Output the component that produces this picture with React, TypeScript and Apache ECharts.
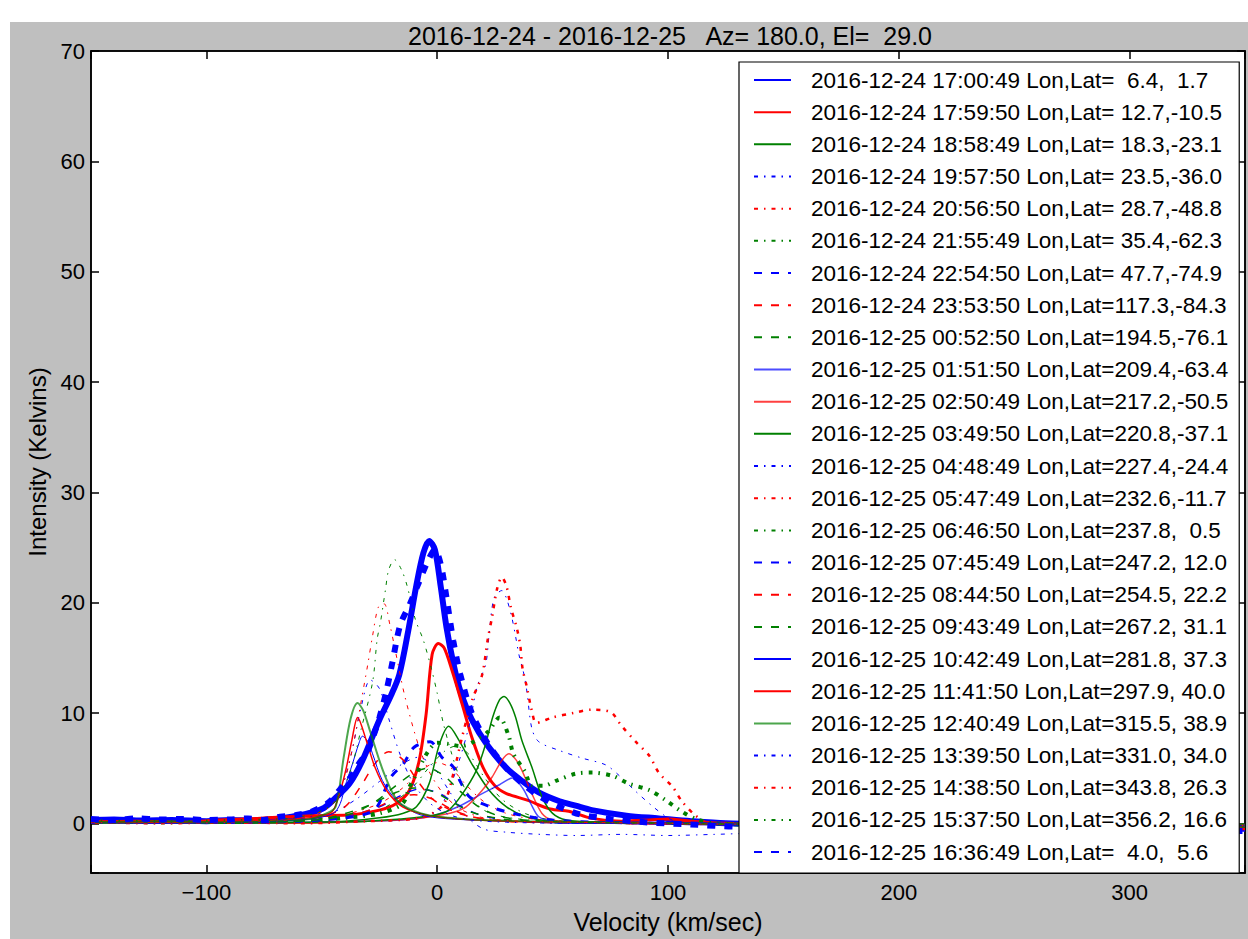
import React, { useEffect, useRef } from "react";
import * as echarts from "echarts";

// ---------- data: [velocity (km/s), intensity (K)] per observation ----------
const LABELS = [
  "2016-12-24 17:00:49 Lon,Lat=  6.4,  1.7",
  "2016-12-24 17:59:50 Lon,Lat= 12.7,-10.5",
  "2016-12-24 18:58:49 Lon,Lat= 18.3,-23.1",
  "2016-12-24 19:57:50 Lon,Lat= 23.5,-36.0",
  "2016-12-24 20:56:50 Lon,Lat= 28.7,-48.8",
  "2016-12-24 21:55:49 Lon,Lat= 35.4,-62.3",
  "2016-12-24 22:54:50 Lon,Lat= 47.7,-74.9",
  "2016-12-24 23:53:50 Lon,Lat=117.3,-84.3",
  "2016-12-25 00:52:50 Lon,Lat=194.5,-76.1",
  "2016-12-25 01:51:50 Lon,Lat=209.4,-63.4",
  "2016-12-25 02:50:49 Lon,Lat=217.2,-50.5",
  "2016-12-25 03:49:50 Lon,Lat=220.8,-37.1",
  "2016-12-25 04:48:49 Lon,Lat=227.4,-24.4",
  "2016-12-25 05:47:49 Lon,Lat=232.6,-11.7",
  "2016-12-25 06:46:50 Lon,Lat=237.8,  0.5",
  "2016-12-25 07:45:49 Lon,Lat=247.2, 12.0",
  "2016-12-25 08:44:50 Lon,Lat=254.5, 22.2",
  "2016-12-25 09:43:49 Lon,Lat=267.2, 31.1",
  "2016-12-25 10:42:49 Lon,Lat=281.8, 37.3",
  "2016-12-25 11:41:50 Lon,Lat=297.9, 40.0",
  "2016-12-25 12:40:49 Lon,Lat=315.5, 38.9",
  "2016-12-25 13:39:50 Lon,Lat=331.0, 34.0",
  "2016-12-25 14:38:50 Lon,Lat=343.8, 26.3",
  "2016-12-25 15:37:50 Lon,Lat=356.2, 16.6",
  "2016-12-25 16:36:49 Lon,Lat=  4.0,  5.6",
];

const p01 = [[-150,0.3],[-140,0.35],[-128,0.25],[-115,0.3],[-100,0.2],[-90,0.3],[-80,0.25],[-70,0.4],[-63,0.6],[-56,0.9],[-49,1.4],[-43.6,2.4],[-38,3.6],[-32.4,5.7],[-25,9.4],[-20,11.6],[-16.4,13.5],[-12.5,17.5],[-9,21.6],[-6,24.5],[-3.5,25.6],[-1,24.8],[1.5,21.5],[4,17.8],[7,14.5],[10,12],[15,9.4],[22,7],[30,5],[37,3.8],[44,2.8],[53,2],[60,1.6],[67,1.2],[82,0.7],[96,0.45],[110,0.2],[125,0],[150,-0.1],[200,-0.2],[250,-0.3],[300,-0.4],[350,-0.5]];
const p02 = [[-150,0.15],[-130,0.2],[-110,0.1],[-95,0.3],[-78,0.45],[-65,0.6],[-54,0.7],[-39,0.75],[-25,1.2],[-17.7,1.8],[-12,3],[-7.8,5.7],[-4.8,9.9],[-2.2,15.3],[0.5,16.3],[3,15.9],[6.5,13.8],[10.8,10.8],[15,7.8],[20,5],[25,3.4],[30,2.7],[39,2.1],[49,1.3],[57,1.1],[67,0.45],[80,0.2],[92,0.3],[100,0.4],[110,0.2],[125,0],[160,-0.2],[220,-0.3],[280,-0.4],[350,-0.5]];
const p03 = [[-150,0.1],[-120,0.05],[-90,0.1],[-60,0.05],[-40,0.2],[-25,0.5],[-15,0.9],[-9,1.5],[-3.5,3.6],[1,7.2],[5,8.8],[9.5,7.5],[15,5.4],[22.5,3],[30,1.5],[38.5,0.6],[50,0.2],[70,0.1],[100,0],[150,-0.1],[200,-0.1],[250,-0.2],[300,-0.2],[350,-0.3]];
const p04 = [[-150,0],[-120,0.1],[-90,0],[-70,0.1],[-55,0.4],[-45,1],[-35,2.2],[-25,3.8],[-15,5.4],[-8,6],[-2,5.2],[5,3],[12,0.8],[20,-0.5],[30,-0.8],[45,-1],[60,-1.1],[80,-1],[100,-1.1],[120,-1],[135,-0.9],[160,-0.7],[200,-0.6],[250,-0.5],[300,-0.5],[350,-0.6]];
const p05 = [[-150,0.1],[-120,0],[-90,0.1],[-60,0.2],[-40,0.8],[-25,1.8],[-15,3.2],[-7,4.8],[0,5.5],[6,5],[12,3.6],[20,2],[30,0.9],[45,0.3],[70,0.1],[100,0],[150,-0.1],[200,-0.1],[250,-0.2],[300,-0.2],[350,-0.3]];
const p06 = [[-150,0],[-120,0.1],[-90,0],[-60,0.1],[-40,0.4],[-25,1.2],[-12,3],[-3,5.2],[3,6.5],[8,7],[14,6.2],[20,4.3],[28,2.2],[38,0.9],[50,0.3],[70,0.1],[100,0],[150,-0.1],[200,-0.1],[250,-0.1],[300,-0.2],[350,-0.2]];
const p07 = [[-150,0.1],[-120,0],[-90,0.1],[-60,0.2],[-40,0.6],[-25,1.5],[-15,2.6],[-8,3.1],[0,2.8],[8,1.8],[18,0.8],[30,0.3],[50,0.1],[80,0],[120,-0.1],[200,-0.1],[300,-0.2],[350,-0.2]];
const p08 = [[-150,0],[-120,0.1],[-90,0],[-60,0.1],[-40,0.5],[-28,1.3],[-18,2.2],[-10,2.6],[-2,2.2],[6,1.3],[15,0.6],[28,0.2],[50,0.1],[80,0],[150,-0.1],[250,-0.1],[350,-0.2]];
const p09 = [[-150,0.1],[-120,0],[-90,0.1],[-60,0.2],[-45,0.6],[-30,1.6],[-18,2.8],[-10,3.2],[-2,2.9],[6,2],[15,1],[28,0.4],[45,0.1],[80,0],[150,0],[250,-0.1],[350,-0.1]];
const p10 = [[-150,0],[-120,0.1],[-90,0],[-60,0.1],[-30,0.2],[-10,0.4],[0,0.8],[10,1.6],[19.5,2.7],[27,3.5],[32.5,4.1],[37,3.2],[41,1.6],[44,0.6],[50,0.2],[70,0.1],[100,0],[150,-0.1],[250,-0.1],[350,-0.2]];
const p11 = [[-150,0.1],[-120,0],[-90,0.1],[-60,0],[-30,0.2],[-10,0.4],[0,0.7],[7,1],[12.5,1.5],[19.5,3],[23.8,4.2],[28,5.7],[31,6.3],[34,5.8],[36.7,4.8],[41,2.7],[45.4,0.9],[50,0.3],[60,0.1],[80,0],[120,-0.1],[200,-0.1],[300,-0.2],[350,-0.2]];
const p12 = [[-150,0],[-120,0.1],[-90,0],[-60,0.1],[-30,0.2],[-10,0.5],[0,0.8],[5,1.2],[11,2.7],[17,4.8],[21,7.2],[24,9.6],[27,11.2],[29,11.5],[31.5,10.9],[34,9.6],[36.7,7.5],[41,5.1],[45.4,2.4],[50,0.9],[56,0.3],[70,0.1],[100,0],[150,-0.1],[250,-0.1],[350,-0.2]];
const p13 = [[-150,0.1],[-120,0],[-90,0.1],[-60,0],[-30,0.2],[-10,0.4],[0,1.2],[5,3],[10,6],[14,9],[17.3,12.4],[21,14.4],[22.5,17.1],[24.6,20.4],[28,21.1],[30,20.4],[32.4,18.6],[34,16.9],[35.4,15.3],[37.6,13.5],[38.9,11.9],[41,8.6],[44,7.4],[53,6.6],[63,5.9],[73,5.3],[79,4.3],[86,2.9],[93,1.6],[100,0.5],[106,0],[130,-0.1],[200,-0.1],[300,-0.2],[350,-0.2]];
const p14 = [[-150,0.1],[-120,0],[-90,0.1],[-60,0],[-30,0.2],[-10,0.4],[-3,0.8],[3,1.8],[7,4.5],[11,8],[15.5,11.4],[19.4,13.4],[22,16.8],[23.7,18.6],[26,21.3],[28,22.3],[30,21.5],[32,19.5],[34.5,17.7],[36,16.1],[37,14],[38.8,12.4],[41,10.2],[43,9.1],[50,9.6],[59,10],[67,10.3],[75,10.1],[80,8.8],[86,7.4],[92,6.1],[96,4.6],[102,3.3],[106,2],[112,0.7],[118,0],[135,-0.1],[200,-0.1],[300,-0.2],[350,-0.2]];
const p15 = [[-150,0.2],[-120,0.1],[-90,0.2],[-60,0.3],[-40,0.5],[-25,0.9],[-15,1.8],[-12,3.3],[-9,4.5],[-4,6.5],[0,7.3],[5,7.2],[10,7],[15,7.3],[22,8.3],[27,9.6],[31,7.9],[33,6.3],[38,4.7],[41,3.4],[46,3.4],[52,3.9],[60,4.5],[67,4.6],[76,4.3],[83,3.6],[92,3],[99,2.1],[105,1.2],[112,0.4],[120,0],[135,-0.1],[200,-0.1],[300,-0.2],[350,-0.2]];
const p16 = [[-150,0.1],[-120,0.2],[-90,0.1],[-60,0.2],[-40,0.5],[-30,0.9],[-26,1.5],[-20,4.2],[-14.6,5.4],[-10,6.9],[-3,7.4],[2,6],[7,5.1],[10,3.8],[14,2.4],[23,1.5],[35,0.8],[50,0.3],[70,0.1],[100,0],[150,-0.1],[250,-0.1],[350,-0.2]];
const p17 = [[-150,0],[-120,0.1],[-90,0],[-65,0.2],[-50,0.6],[-40,1.5],[-33,3.4],[-27,5.4],[-21,6.5],[-15,5.8],[-9,4],[-2,2.2],[8,1],[20,0.4],[40,0.1],[80,0],[150,-0.1],[250,-0.1],[350,-0.2]];
const p18 = [[-150,0.1],[-120,0],[-90,0.1],[-60,0.2],[-40,0.7],[-28,1.8],[-18,3.4],[-10,4.6],[-4,5],[3,4.3],[10,2.9],[18,1.5],[28,0.6],[45,0.2],[80,0],[150,-0.1],[250,-0.1],[350,-0.2]];
const p19 = [[-150,0.1],[-120,0],[-90,0.1],[-70,0.2],[-55,0.4],[-45,0.9],[-42,1.8],[-40,3.3],[-36.7,5.4],[-34,7.2],[-32.4,7.9],[-30,7.4],[-28,6.3],[-23.8,3.9],[-17.7,2.1],[-9,0.9],[0,0.5],[15,0.3],[30,0.2],[60,0],[100,0],[150,-0.1],[250,-0.1],[350,-0.2]];
const p20 = [[-150,0.2],[-120,0.1],[-90,0.2],[-70,0.3],[-55,0.5],[-48,0.8],[-45,1.2],[-42.3,2.7],[-39.3,5.1],[-37,7.5],[-34.5,9.6],[-30.7,7.5],[-27,5.1],[-22,3],[-15,1.5],[-3.5,0.7],[10,0.4],[30,0.2],[60,0.1],[100,0],[150,-0.1],[250,-0.1],[350,-0.2]];
const p21 = [[-150,0.1],[-120,0.2],[-90,0.1],[-70,0.2],[-55,0.4],[-48,0.9],[-44,1.5],[-40.5,6],[-37.5,9.5],[-34.5,10.9],[-32,10.2],[-29,8.3],[-23,4.5],[-17,2],[-7,0.9],[5,0.5],[20,0.3],[40,0.2],[70,0.1],[100,0],[150,-0.1],[250,-0.1],[350,-0.2]];
const p22 = [[-150,0],[-120,0.1],[-90,0],[-65,0.3],[-50,1],[-42,3],[-37,6.5],[-33,10.5],[-29,13],[-25,12.2],[-21,9.5],[-16,6.2],[-10,3.5],[-3,1.8],[5,0.8],[15,0.3],[30,0.1],[60,0],[100,0],[150,-0.1],[250,-0.1],[350,-0.2]];
const p23 = [[-150,0.1],[-120,0],[-90,0.1],[-65,0.3],[-52,0.9],[-45,1.8],[-40,4],[-36,7.5],[-33,11],[-30,14.5],[-28,17],[-25.5,19.6],[-23,19.9],[-20.5,18],[-18,15.5],[-14,11.5],[-8,7],[-3,4.5],[3,2.6],[10,1.3],[20,0.5],[35,0.2],[60,0.1],[100,0],[150,-0.1],[250,-0.1],[350,-0.2]];
const p24 = [[-150,0.2],[-120,0.1],[-90,0.2],[-70,0.3],[-55,0.8],[-45,1.8],[-38,4.5],[-33,8.5],[-28,12.8],[-26,16.7],[-24.6,18.2],[-22.4,21.2],[-21,23],[-18.5,23.9],[-15.5,23],[-13,21.5],[-9.5,18.5],[-6,16.6],[-2.5,14],[0,11.8],[2.5,9.2],[6,6.5],[10,4],[15,2.2],[22,1],[35,0.4],[60,0.1],[100,0],[150,-0.1],[250,-0.1],[350,-0.2]];
const p25 = [[-150,0.4],[-140,0.3],[-130,0.45],[-120,0.35],[-110,0.4],[-100,0.3],[-90,0.35],[-82,0.45],[-75,0.3],[-68,0.6],[-61,0.75],[-54,1.1],[-47,1.9],[-42,3.1],[-37.5,4.2],[-34,5.4],[-30,6.6],[-27.5,8],[-25,9.6],[-22,12],[-19.5,14.5],[-16,18],[-12,19.8],[-8,21.8],[-4,23.8],[-1,24.8],[1.5,23.5],[4,20.5],[7,16.5],[10,13.5],[15,10],[22,7.2],[30,5],[37,3.6],[44,2.5],[53,1.5],[62,0.8],[75,0.4],[90,0.1],[110,-0.1],[130,-0.3],[160,-0.3],[200,-0.4],[250,-0.5],[300,-0.6],[350,-0.7]];

const PROFILES = [p01,p02,p03,p04,p05,p06,p07,p08,p09,p10,p11,p12,p13,p14,p15,p16,p17,p18,p19,p20,p21,p22,p23,p24,p25];

// ---------- styles ----------
const COLOR = { b: "#0000ff", r: "#ff0000", g: "#008000" };
const COLORS = ["b","r","g","b","r","g","b","r","g","b","r","g","b","r","g","b","r","g","b","r","g","b","r","g","b"];
const WIDTHS = [6,3,1.5, 1,1,1, 1.5,1.5,1.5, 1.5,1.5,1.5, 1,2.5,4, 3,1.5,1.5, 1,1.5,2, 1,1,1, 6];
const KINDS = ["s","s","s","dd","dd","dd","d","d","d","s","s","s","dd","dd","dd","d","d","d","s","s","s","dd","dd","dd","d"];
const OPAC = [1,1,1, 1,1,1, 1,1,1, 0.7,0.75,1, 1,1,1, 1,1,1, 1,1,0.7, 1,1,1, 1];

const DASH = [8, 9];
const DASHDOT = [4, 6, 1.5, 6];

const FONT = "'Liberation Sans', Arial, Helvetica, sans-serif";

export default function App() {
  const ref = useRef<HTMLDivElement>(null);
  useEffect(() => {
    if (!ref.current) return;
    const chart = echarts.init(ref.current, null, { renderer: "svg" });
    const series = PROFILES.map((d, i) => ({
      name: LABELS[i],
      type: "line",
      data: d,
      xAxisIndex: 0,
      yAxisIndex: 0,
      symbol: "none",
      smooth: 0.3,
      lineStyle: {
        color: COLOR[COLORS[i]],
        width: WIDTHS[i],
        opacity: OPAC[i],
        type: KINDS[i] === "s" ? "solid" : KINDS[i] === "d" ? DASH : DASHDOT,
      },
      itemStyle: { color: COLOR[COLORS[i]], opacity: 0 },
      emphasis: { disabled: true },
    }));
    const xFmt = (v: number) => (v % 100 === 0 ? (v < 0 ? "\u2212" + Math.abs(v) : String(v)) : "");
    const yFmt = (v: number) => (v % 10 === 0 ? String(v) : "");
    const tick = { show: true, inside: true, length: 8, lineStyle: { color: "#000", width: 1.5 } };
    const line = { show: true, onZero: false, lineStyle: { color: "#000", width: 1.5 } };
    chart.setOption({
      animation: false,
      backgroundColor: "transparent",
      textStyle: { fontFamily: FONT },
      graphic: [
        {
          type: "text",
          x: 670,
          y: 36,
          style: {
            text: "2016-12-24 - 2016-12-25   Az= 180.0, El=  29.0",
            font: "25px " + FONT,
            fill: "#000",
            textAlign: "center",
            textVerticalAlign: "middle",
          },
        },
      ],
      grid: {
        left: 91,
        top: 51,
        width: 1157,
        height: 829,
        show: true,
        backgroundColor: "#fff",
        borderColor: "#000",
        borderWidth: 1.5,
      },
      legend: {
        orient: "vertical",
        left: 739,
        top: 62,
        itemWidth: 37,
        itemHeight: 14,
        itemGap: 8.17,
        padding: [6, 11, 9, 14],
        backgroundColor: "#fff",
        borderColor: "#000",
        borderWidth: 1.2,
        borderRadius: 0,
        selectedMode: false,
        itemStyle: { opacity: 0 },
        textStyle: {
          fontSize: 22.5,
          fontFamily: FONT,
          color: "#000",
          lineHeight: 24,
          padding: [0, 0, 0, 15],
        },
        data: LABELS,
      },
      xAxis: [
        {
          type: "value",
          min: -150,
          max: 350,
          splitNumber: 5,
          name: "Velocity (km/sec)",
          nameLocation: "middle",
          nameGap: 36,
          nameTextStyle: { fontSize: 25, color: "#000", fontFamily: FONT },
          axisLine: line,
          axisTick: tick,
          splitLine: { show: false },
          axisLabel: { formatter: xFmt, fontSize: 22, color: "#000", margin: 8, fontFamily: FONT },
        },
        {
          type: "value",
          position: "top",
          min: -150,
          max: 350,
          splitNumber: 5,
          axisLine: line,
          axisTick: tick,
          splitLine: { show: false },
          axisLabel: { show: false },
        },
      ],
      yAxis: [
        {
          type: "value",
          min: -4.5,
          max: 70,
          splitNumber: 7,
          name: "Intensity (Kelvins)",
          nameLocation: "middle",
          nameGap: 39,
          nameRotate: 90,
          nameTextStyle: { fontSize: 24, color: "#000", fontFamily: FONT },
          axisLine: line,
          axisTick: tick,
          splitLine: { show: false },
          axisLabel: { formatter: yFmt, fontSize: 22, color: "#000", margin: 6, fontFamily: FONT },
        },
        {
          type: "value",
          position: "right",
          min: -4.5,
          max: 70,
          splitNumber: 7,
          axisLine: line,
          axisTick: tick,
          splitLine: { show: false },
          axisLabel: { show: false },
        },
      ],
      series,
    });
    return () => chart.dispose();
  }, []);

  return (
    <div style={{ position: "absolute", left: 0, top: 0, width: 1248, height: 939, background: "#fff", overflow: "hidden" }}>
      <div style={{ position: "absolute", left: 10, top: 22, width: 1238, height: 917, background: "#bfbfbf" }} />
      <div ref={ref} style={{ position: "absolute", left: 0, top: 0, width: 1248, height: 939 }} />
    </div>
  );
}
